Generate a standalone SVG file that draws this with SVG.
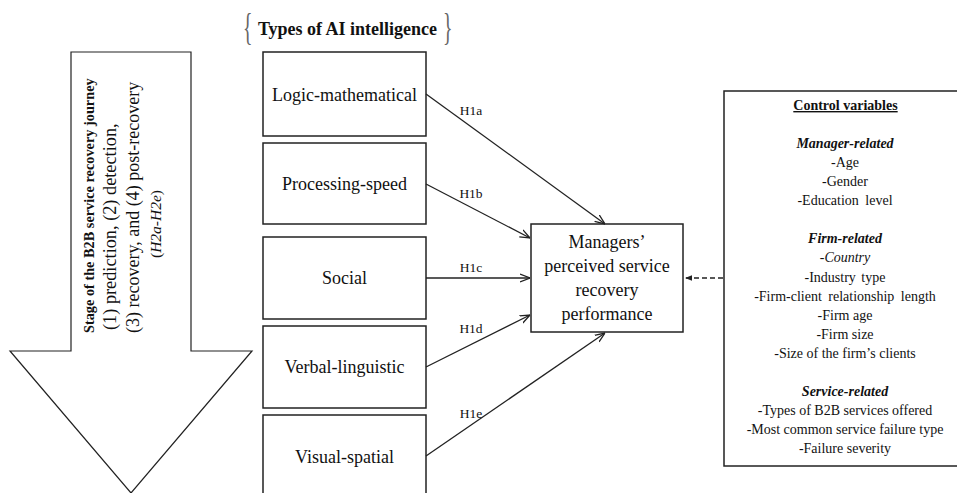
<svg xmlns="http://www.w3.org/2000/svg" width="957" height="493" viewBox="0 0 957 493">
<style>
text{font-family:"Liberation Serif","Times New Roman",serif;fill:#111}
.box{fill:#fff;stroke:#222;stroke-width:1.5}
.lbl{font-size:18px;text-anchor:middle}
.h{font-size:13.5px;text-anchor:middle}
.cv{font-size:14px;text-anchor:middle}
.b{font-weight:bold}
.i{font-style:italic}
.con{fill:none;stroke:#222;stroke-width:1.3}
.brace{font-size:44px;fill:#666}
</style>
<defs>
<marker id="open" viewBox="0 0 10 10" refX="10" refY="5" markerWidth="10" markerHeight="10" markerUnits="userSpaceOnUse" orient="auto">
<path d="M0,1 L10,5 L0,9" fill="none" stroke="#222" stroke-width="1.3"/>
</marker>
<marker id="solid" viewBox="0 0 10 10" refX="10" refY="5" markerWidth="7" markerHeight="7" markerUnits="userSpaceOnUse" orient="auto">
<path d="M0,1 L10,5 L0,9 Z" fill="#222"/>
</marker>
</defs>

<g id="stage-arrow">
<path d="M71,52 L191,52 L191,351 L252,351 L131,493 L10,351 L71,351 Z" fill="#fff" stroke="#222" stroke-width="1.2"/>
<text class="b" font-size="14.3" transform="translate(94,333) rotate(-90)">Stage of the B2B service recovery journey</text>
<text font-size="18.3" transform="translate(116,330) rotate(-90)">(1) prediction, (2) detection,</text>
<text font-size="18" transform="translate(139,333) rotate(-90)">(3) recovery, and (4) post-recovery</text>
<text font-size="15.5" text-anchor="middle" transform="translate(161,224) rotate(-90)">(<tspan class="i">H2a-H2e</tspan>)</text>
</g>

<g id="types-title">
<text class="brace" transform="translate(243,40) scale(0.45,0.85)">{</text>
<text class="b" font-size="18" x="347.5" y="35" text-anchor="middle">Types of AI intelligence</text>
<text class="brace" transform="translate(443,40) scale(0.45,0.85)">}</text>
</g>

<g id="logic">
<rect class="box" x="263" y="52" width="163" height="84"/>
<text class="lbl" x="344.5" y="101">Logic-mathematical</text>
</g>
<g id="processing">
<rect class="box" x="263" y="143" width="163" height="81"/>
<text class="lbl" x="344.5" y="190">Processing-speed</text>
</g>
<g id="social">
<rect class="box" x="263" y="237" width="163" height="82"/>
<text class="lbl" x="344.5" y="284">Social</text>
</g>
<g id="verbal">
<rect class="box" x="263" y="326" width="163" height="82"/>
<text class="lbl" x="344.5" y="373">Verbal-linguistic</text>
</g>
<g id="visual">
<rect class="box" x="263" y="415" width="163" height="90"/>
<text class="lbl" x="344.5" y="463">Visual-spatial</text>
</g>

<g id="performance">
<rect class="box" x="531" y="224" width="152" height="108"/>
<text class="lbl" x="607" y="248">Managers’</text>
<text class="lbl" x="607" y="272">perceived service</text>
<text class="lbl" x="607" y="296">recovery</text>
<text class="lbl" x="607" y="320">performance</text>
</g>

<g id="controls">
<rect class="box" x="724" y="91" width="250" height="375"/>
<text class="cv b" x="845.5" y="110" text-decoration="underline">Control variables</text>
<text class="cv b i" x="845" y="148">Manager-related</text>
<text class="cv" x="845" y="167">-Age</text>
<text class="cv" x="845" y="186">-Gender</text>
<text class="cv" x="845" y="205" word-spacing="3">-Education level</text>
<text class="cv b i" x="845" y="243">Firm-related</text>
<text class="cv i" x="845" y="262">-Country</text>
<text class="cv" x="845" y="282" word-spacing="2">-Industry type</text>
<text class="cv" x="845" y="301" word-spacing="3">-Firm-client relationship length</text>
<text class="cv" x="845" y="320">-Firm age</text>
<text class="cv" x="845" y="339">-Firm size</text>
<text class="cv" x="845" y="358">-Size of the firm’s clients</text>
<text class="cv b i" x="845" y="396">Service-related</text>
<text class="cv" x="845" y="415">-Types of B2B services offered</text>
<text class="cv" x="845" y="434">-Most common service failure type</text>
<text class="cv" x="845" y="453">-Failure severity</text>
</g>

<g id="connectors">
<line class="con" x1="426" y1="94" x2="605" y2="224" marker-end="url(#open)"/>
<line class="con" x1="426" y1="184" x2="530" y2="238" marker-end="url(#open)"/>
<line class="con" x1="426" y1="278" x2="530" y2="278" marker-end="url(#open)"/>
<line class="con" x1="426" y1="367" x2="530" y2="315" marker-end="url(#open)"/>
<line class="con" x1="426" y1="456" x2="605" y2="333" marker-end="url(#open)"/>
<line class="con" x1="723" y1="278" x2="685" y2="278" stroke-dasharray="5,3" marker-end="url(#solid)"/>
<text class="h" x="471" y="115">H1a</text>
<text class="h" x="471" y="198">H1b</text>
<text class="h" x="471" y="272">H1c</text>
<text class="h" x="471" y="333">H1d</text>
<text class="h" x="471" y="418">H1e</text>
</g>
</svg>
